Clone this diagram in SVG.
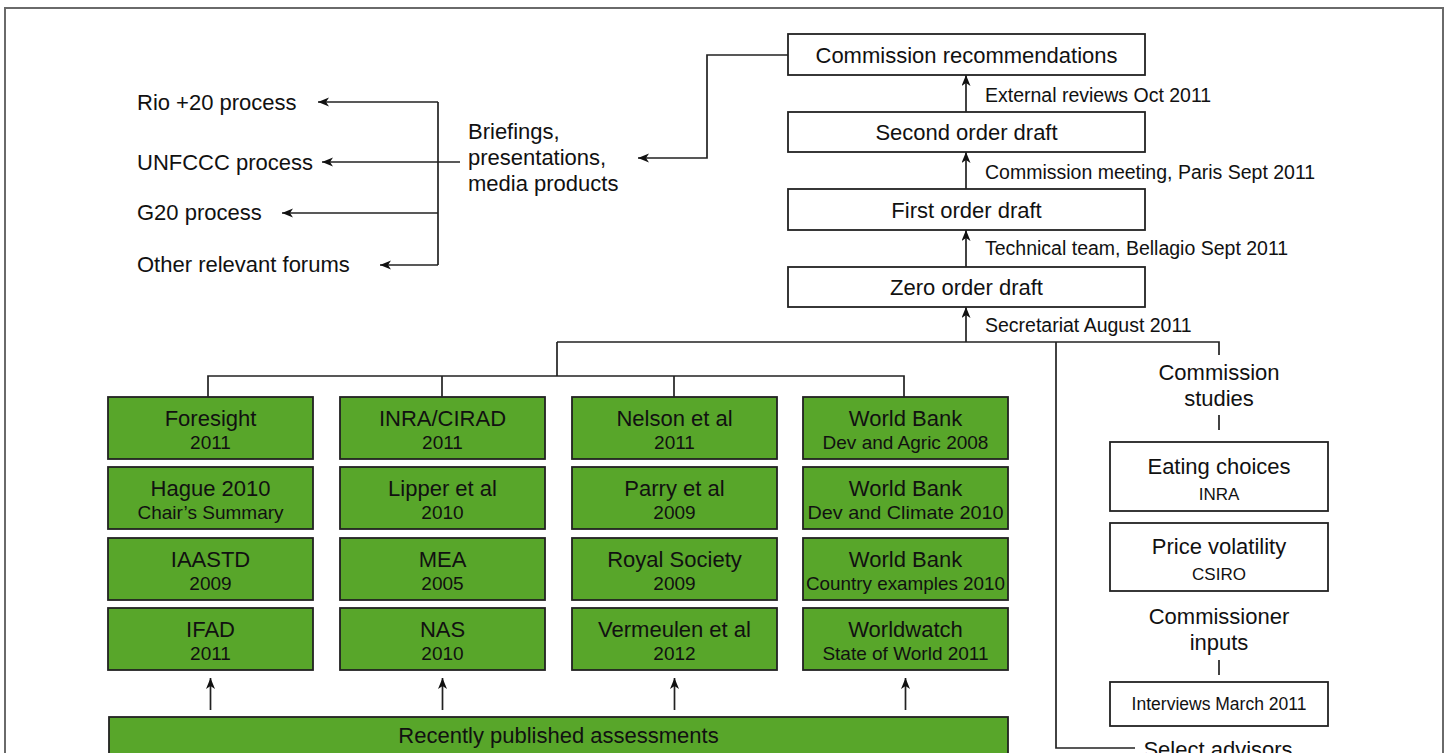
<svg xmlns="http://www.w3.org/2000/svg" width="1451" height="753" viewBox="0 0 1451 753">
<defs>
<style>
text{font-family:"Liberation Sans",Arial,sans-serif;fill:#111}
.big{font-size:22px}
.mid{font-size:19.5px}
.sm{font-size:19px}
.xs{font-size:17px}
.it{font-size:17.5px}
.c{text-anchor:middle}
.wbox{fill:#fff;stroke:#222;stroke-width:1.8}
.gbox{fill:#58a62a;stroke:#222;stroke-width:1.8}
.ln{fill:none;stroke:#222;stroke-width:1.7}
.ar{fill:none;stroke:#222;stroke-width:1.7;marker-end:url(#ah)}
</style>
<marker id="ah" markerUnits="userSpaceOnUse" markerWidth="12" markerHeight="10" refX="11" refY="4.5" orient="auto">
<path d="M0,0 L11,4.5 L0,9 L3,4.5 z" fill="#111"/>
</marker>
</defs>
<rect x="0" y="0" width="1451" height="753" fill="#fff"/>
<rect x="5" y="8" width="1438" height="800" fill="none" stroke="#6a6a6a" stroke-width="2"/>

<g id="connectors">
<path class="ln" d="M438,102 V265"/>
<path class="ar" d="M438,102 H318"/>
<path class="ar" d="M460,162 H322"/>
<path class="ar" d="M438,213 H282"/>
<path class="ar" d="M438,265 H380"/>
<path class="ar" d="M788,55 H707 V158 H638"/>
<path class="ar" d="M966,112 V75"/>
<path class="ar" d="M966,189 V152"/>
<path class="ar" d="M966,267 V230"/>
<path class="ar" d="M966,342 V307"/>
<path class="ln" d="M557,342 H1219 V355"/>
<path class="ln" d="M557,342 V376"/>
<path class="ln" d="M208,397 V376 H904 V397"/>
<path class="ln" d="M442,376 V397"/>
<path class="ln" d="M674,376 V397"/>
<path class="ln" d="M1056,342 V748 H1135"/>
<path class="ln" d="M1219,415 V430"/>
<path class="ln" d="M1219,660 V675"/>
<path class="ar" d="M210.5,710 V678"/>
<path class="ar" d="M442.5,710 V678"/>
<path class="ar" d="M674.5,710 V678"/>
<path class="ar" d="M905.5,710 V678"/>
</g>

<g id="rio"><text class="big" x="137" y="110">Rio +20 process</text></g>
<g id="unfccc"><text class="big" x="137" y="170">UNFCCC process</text></g>
<g id="g20"><text class="big" x="137" y="220">G20 process</text></g>
<g id="other"><text class="big" x="137" y="272">Other relevant forums</text></g>
<g id="briefings">
<text class="big" x="468" y="139">Briefings,</text>
<text class="big" x="468" y="165">presentations,</text>
<text class="big" x="468" y="191">media products</text>
</g>

<g id="recommendations"><rect class="wbox" x="788" y="34" width="357" height="41"/><text class="big c" x="966.5" y="63">Commission recommendations</text></g>
<g id="second"><rect class="wbox" x="788" y="112" width="357" height="40"/><text class="big c" x="966.5" y="140">Second order draft</text></g>
<g id="first"><rect class="wbox" x="788" y="189" width="357" height="41"/><text class="big c" x="966.5" y="218">First order draft</text></g>
<g id="zero"><rect class="wbox" x="788" y="267" width="357" height="40"/><text class="big c" x="966.5" y="295">Zero order draft</text></g>
<g id="labels">
<text class="mid" x="985" y="102">External reviews Oct 2011</text>
<text class="mid" x="985" y="179">Commission meeting, Paris Sept 2011</text>
<text class="mid" x="985" y="255">Technical team, Bellagio Sept 2011</text>
<text class="mid" x="985" y="332">Secretariat August 2011</text>
</g>

<g id="col1">
<g id="foresight"><rect class="gbox" x="108" y="397" width="205" height="62"/><text class="big c" x="210.5" y="426">Foresight</text><text class="sm c" x="210.5" y="449">2011</text></g>
<g id="hague"><rect class="gbox" x="108" y="467" width="205" height="62"/><text class="big c" x="210.5" y="496">Hague 2010</text><text class="sm c" x="210.5" y="519">Chair’s Summary</text></g>
<g id="iaastd"><rect class="gbox" x="108" y="538" width="205" height="62"/><text class="big c" x="210.5" y="567">IAASTD</text><text class="sm c" x="210.5" y="590">2009</text></g>
<g id="ifad"><rect class="gbox" x="108" y="608" width="205" height="62"/><text class="big c" x="210.5" y="637">IFAD</text><text class="sm c" x="210.5" y="660">2011</text></g>
</g>
<g id="col2">
<g id="inra-cirad"><rect class="gbox" x="340" y="397" width="205" height="62"/><text class="big c" x="442.5" y="426">INRA/CIRAD</text><text class="sm c" x="442.5" y="449">2011</text></g>
<g id="lipper"><rect class="gbox" x="340" y="467" width="205" height="62"/><text class="big c" x="442.5" y="496">Lipper et al</text><text class="sm c" x="442.5" y="519">2010</text></g>
<g id="mea"><rect class="gbox" x="340" y="538" width="205" height="62"/><text class="big c" x="442.5" y="567">MEA</text><text class="sm c" x="442.5" y="590">2005</text></g>
<g id="nas"><rect class="gbox" x="340" y="608" width="205" height="62"/><text class="big c" x="442.5" y="637">NAS</text><text class="sm c" x="442.5" y="660">2010</text></g>
</g>
<g id="col3">
<g id="nelson"><rect class="gbox" x="572" y="397" width="205" height="62"/><text class="big c" x="674.5" y="426">Nelson et al</text><text class="sm c" x="674.5" y="449">2011</text></g>
<g id="parry"><rect class="gbox" x="572" y="467" width="205" height="62"/><text class="big c" x="674.5" y="496">Parry et al</text><text class="sm c" x="674.5" y="519">2009</text></g>
<g id="royal"><rect class="gbox" x="572" y="538" width="205" height="62"/><text class="big c" x="674.5" y="567">Royal Society</text><text class="sm c" x="674.5" y="590">2009</text></g>
<g id="vermeulen"><rect class="gbox" x="572" y="608" width="205" height="62"/><text class="big c" x="674.5" y="637">Vermeulen et al</text><text class="sm c" x="674.5" y="660">2012</text></g>
</g>
<g id="col4">
<g id="wb-agric"><rect class="gbox" x="803" y="397" width="205" height="62"/><text class="big c" x="905.5" y="426">World Bank</text><text class="sm c" x="905.5" y="449">Dev and Agric 2008</text></g>
<g id="wb-climate"><rect class="gbox" x="803" y="467" width="205" height="62"/><text class="big c" x="905.5" y="496">World Bank</text><text class="sm c" x="905.5" y="519" textLength="196" lengthAdjust="spacingAndGlyphs">Dev and Climate 2010</text></g>
<g id="wb-country"><rect class="gbox" x="803" y="538" width="205" height="62"/><text class="big c" x="905.5" y="567">World Bank</text><text class="sm c" x="905.5" y="590" textLength="199" lengthAdjust="spacingAndGlyphs">Country examples 2010</text></g>
<g id="worldwatch"><rect class="gbox" x="803" y="608" width="205" height="62"/><text class="big c" x="905.5" y="637">Worldwatch</text><text class="sm c" x="905.5" y="660">State of World 2011</text></g>
</g>

<g id="recent"><rect class="gbox" x="109" y="717" width="899" height="80"/><text class="big c" x="558.5" y="743">Recently published assessments</text></g>

<g id="commission-studies"><text class="big c" x="1219" y="380">Commission</text><text class="big c" x="1219" y="406">studies</text></g>
<g id="eating"><rect class="wbox" x="1110" y="442" width="218" height="69"/><text class="big c" x="1219" y="474">Eating choices</text><text class="xs c" x="1219" y="500">INRA</text></g>
<g id="price"><rect class="wbox" x="1110" y="523" width="218" height="68"/><text class="big c" x="1219" y="554">Price volatility</text><text class="xs c" x="1219" y="580">CSIRO</text></g>
<g id="commissioner-inputs"><text class="big c" x="1219" y="624">Commissioner</text><text class="big c" x="1219" y="650">inputs</text></g>
<g id="interviews"><rect class="wbox" x="1110" y="682" width="218" height="44"/><text class="it c" x="1219" y="710">Interviews March 2011</text></g>
<g id="advisors"><text class="big c" x="1218" y="757">Select advisors</text></g>
</svg>
